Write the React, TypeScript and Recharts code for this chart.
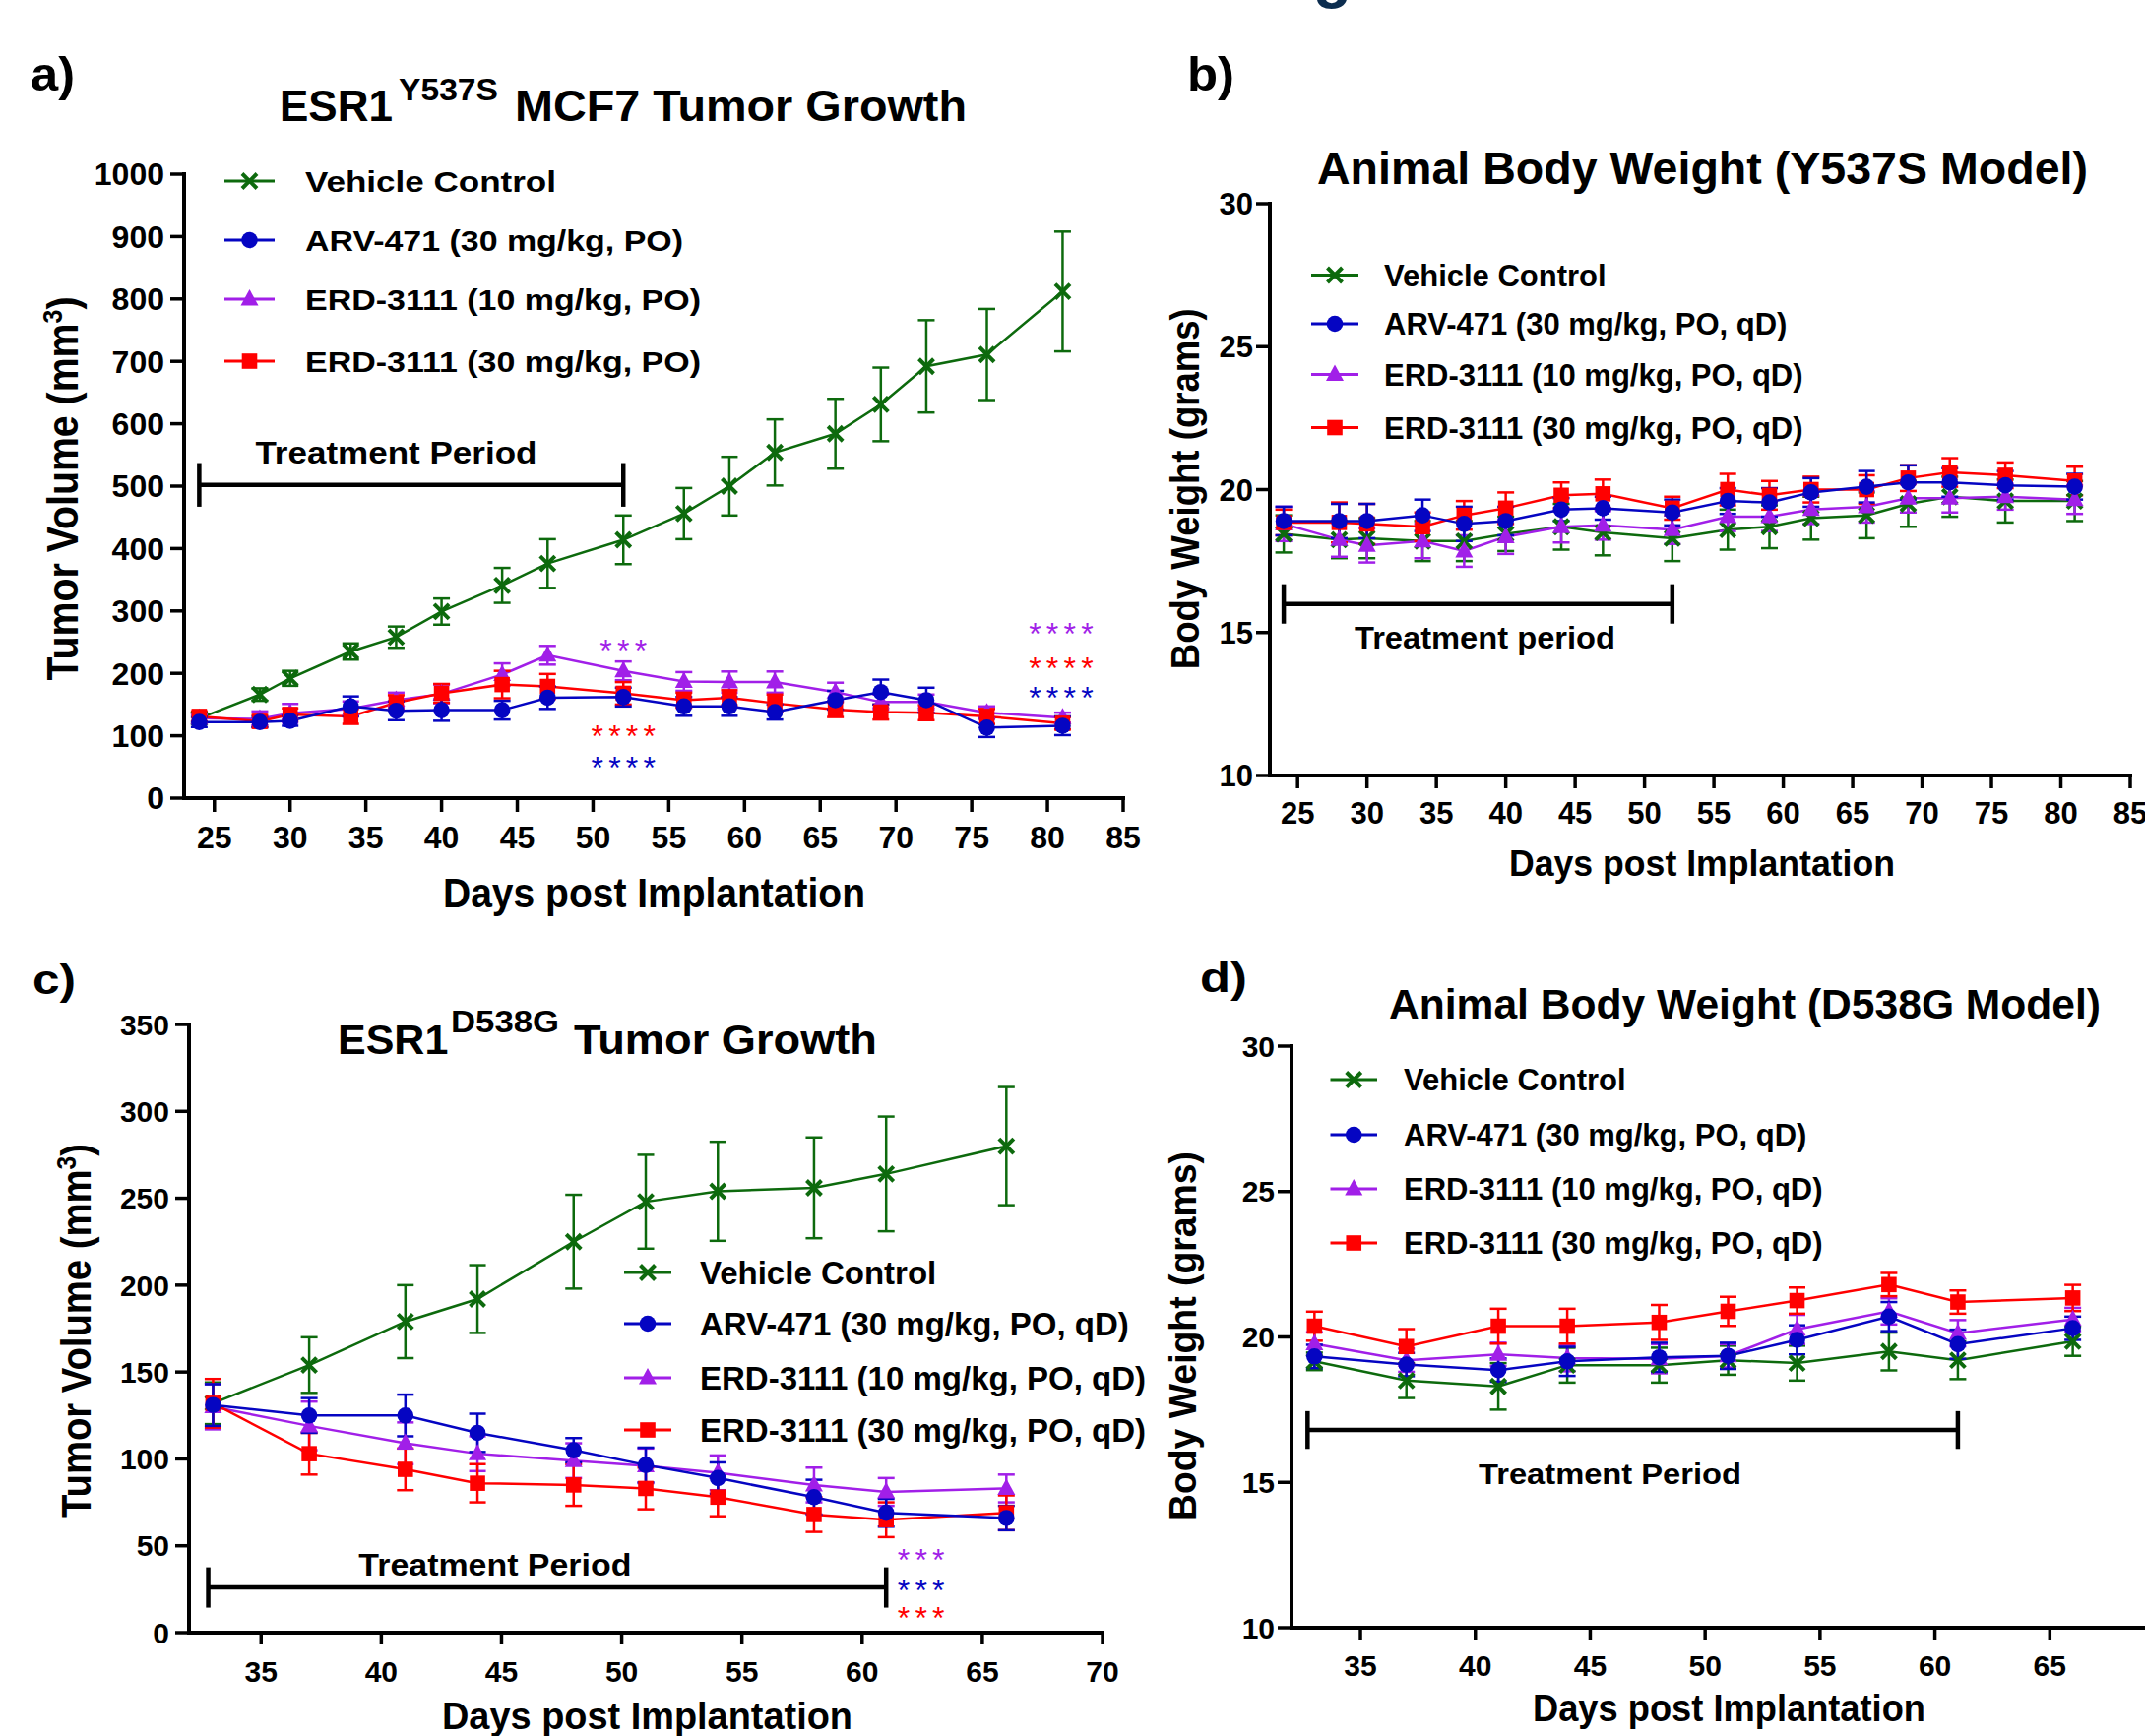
import React from "react";
import {
  ErrorBar,
  Line,
  LineChart,
  ReferenceDot,
  ReferenceLine,
  XAxis,
  YAxis,
} from "recharts";

const FONT = "'Liberation Sans', Arial, Helvetica, sans-serif";

const GREEN = "#0d6a0d";
const BLUE = "#0505c2";
const PURPLE = "#a11fe8";
const RED = "#ff0000";
const NAVY = "#0c2d4f";

// ---- a) ESR1 Y537S MCF7 tumor volume (mm3) ----
const daysY537S = [24, 28, 30, 34, 37, 40, 44, 47, 52, 56, 59, 62, 66, 69, 72, 76, 81];
const tvY537SVehicle = [128, 166, 192, 235, 258, 299, 341, 376, 414, 456, 500, 554, 584, 631, 692, 711, 812];
const tvY537SVehicleErr = [8, 10, 12, 13, 17, 21, 28, 39, 39, 41, 47, 53, 56, 59, 74, 73, 96];
const tvY537SArv = [122, 122, 124, 147, 140, 141, 141, 161, 162, 147, 147, 138, 157, 170, 157, 113, 116];
const tvY537SArvErr = [8, 8, 8, 16, 15, 17, 15, 18, 15, 15, 15, 12, 15, 20, 20, 15, 15];
const tvY537SErd10 = [128, 127, 136, 143, 157, 167, 198, 229, 204, 187, 186, 186, 170, 154, 154, 137, 129];
const tvY537SErd10Err = [6, 12, 15, 12, 12, 15, 18, 15, 15, 15, 17, 17, 15, 12, 12, 10, 8];
const tvY537SErd30 = [131, 123, 134, 131, 153, 168, 182, 179, 168, 157, 161, 152, 142, 138, 137, 131, 120];
const tvY537SErd30Err = [8, 10, 10, 12, 12, 15, 22, 20, 18, 12, 12, 14, 12, 12, 12, 12, 10];

// ---- b) body weight, Y537S model (grams) ----
const bwY537SVehicle = [18.45, 18.25, 18.3, 18.2, 18.2, 18.45, 18.7, 18.5, 18.3, 18.6, 18.7, 19.0, 19.1, 19.5, 19.75, 19.6, 19.6];
const bwY537SVehicleErr = [0.65, 0.65, 0.7, 0.7, 0.7, 0.6, 0.8, 0.8, 0.8, 0.7, 0.75, 0.75, 0.8, 0.8, 0.7, 0.75, 0.7];
const bwY537SArv = [18.9, 18.9, 18.9, 19.1, 18.8, 18.9, 19.3, 19.35, 19.2, 19.6, 19.55, 19.9, 20.1, 20.25, 20.25, 20.15, 20.1];
const bwY537SArvErr = [0.5, 0.6, 0.6, 0.55, 0.6, 0.5, 0.4, 0.4, 0.45, 0.45, 0.5, 0.5, 0.55, 0.6, 0.5, 0.5, 0.45];
const bwY537SErd10 = [18.8, 18.25, 18.05, 18.2, 17.85, 18.35, 18.7, 18.75, 18.6, 19.05, 19.05, 19.3, 19.4, 19.7, 19.7, 19.75, 19.65];
const bwY537SErd10Err = [0.6, 0.6, 0.6, 0.6, 0.55, 0.6, 0.55, 0.5, 0.5, 0.5, 0.5, 0.5, 0.55, 0.5, 0.5, 0.45, 0.5];
const bwY537SErd30 = [18.85, 18.85, 18.8, 18.7, 19.1, 19.35, 19.8, 19.85, 19.35, 20.0, 19.8, 20.0, 20.0, 20.4, 20.6, 20.5, 20.3];
const bwY537SErd30Err = [0.45, 0.7, 0.7, 0.5, 0.5, 0.55, 0.45, 0.5, 0.4, 0.55, 0.5, 0.45, 0.5, 0.45, 0.5, 0.45, 0.5];

// ---- c) ESR1 D538G tumor volume (mm3) ----
const daysD538G = [33, 37, 41, 44, 48, 51, 54, 58, 61, 66];
const tvD538GVehicle = [132, 154, 179, 192, 225, 248, 254, 256, 264, 280];
const tvD538GVehicleErr = [12, 16, 21, 19.5, 27, 27, 28.5, 29, 33, 34];
const tvD538GArv = [131, 125, 125, 115, 105, 96.5, 89, 78, 69, 66];
const tvD538GArvErr = [12, 10, 12, 11, 7, 10, 9, 10, 8, 7];
const tvD538GErd10 = [130, 119, 109, 103, 99, 96, 92, 85, 81, 83];
const tvD538GErd10Err = [13, 14, 12, 10, 10, 10, 10, 10, 8, 8];
const tvD538GErd30 = [132, 103, 94, 86, 85, 83, 78, 68, 65, 69];
const tvD538GErd30Err = [14, 12, 12, 11, 12, 12, 11, 10, 10, 10];

// ---- d) body weight, D538G model (grams) ----
const bwD538GVehicle = [19.16, 18.5, 18.3, 19.03, 19.03, 19.2, 19.1, 19.5, 19.2, 19.85];
const bwD538GVehicleErr = [0.3, 0.6, 0.8, 0.6, 0.6, 0.5, 0.6, 0.65, 0.65, 0.5];
const bwD538GArv = [19.33, 19.05, 18.86, 19.16, 19.3, 19.35, 19.9, 20.7, 19.75, 20.3];
const bwD538GArvErr = [0.4, 0.4, 0.4, 0.5, 0.5, 0.45, 0.5, 0.5, 0.5, 0.4];
const bwD538GErd10 = [19.76, 19.2, 19.4, 19.27, 19.25, 19.35, 20.26, 20.88, 20.13, 20.6];
const bwD538GErd10Err = [0.4, 0.4, 0.4, 0.45, 0.5, 0.4, 0.5, 0.45, 0.45, 0.4];
const bwD538GErd30 = [20.37, 19.67, 20.37, 20.37, 20.5, 20.88, 21.25, 21.8, 21.2, 21.34];
const bwD538GErd30Err = [0.5, 0.6, 0.6, 0.6, 0.6, 0.5, 0.45, 0.4, 0.4, 0.45];

// axis ticks
const ticksDaysY537S = [25, 30, 35, 40, 45, 50, 55, 60, 65, 70, 75, 80, 85];
const ticksDaysD538G = [35, 40, 45, 50, 55, 60, 65, 70];
const ticksTvY537S = [0, 100, 200, 300, 400, 500, 600, 700, 800, 900, 1000];
const ticksTvD538G = [0, 50, 100, 150, 200, 250, 300, 350];
const ticksWeight = [10, 15, 20, 25, 30];

const namesShort = ["Vehicle Control", "ARV-471 (30 mg/kg, PO)", "ERD-3111 (10 mg/kg, PO)", "ERD-3111 (30 mg/kg, PO)"];
const namesQd = ["Vehicle Control", "ARV-471 (30 mg/kg, PO, qD)", "ERD-3111 (10 mg/kg, PO, qD)", "ERD-3111 (30 mg/kg, PO, qD)"];

type Kind = "cross" | "circle" | "triangle" | "square";

// draw order (blue ends up on top); legend order is different
const SERIES: { key: string; kind: Kind; color: string }[] = [
  { key: "veh", kind: "cross", color: GREEN },
  { key: "erd10", kind: "triangle", color: PURPLE },
  { key: "erd30", kind: "square", color: RED },
  { key: "arv", kind: "circle", color: BLUE },
];
const LEGEND_ORDER: { kind: Kind; color: string }[] = [
  { kind: "cross", color: GREEN },
  { kind: "circle", color: BLUE },
  { kind: "triangle", color: PURPLE },
  { kind: "square", color: RED },
];

function buildRows(days: number[], cols: Record<string, number[]>) {
  return days.map((day, i) => {
    const row: Record<string, number> = { day };
    Object.keys(cols).forEach((k) => (row[k] = cols[k][i]));
    return row;
  });
}

const rowsA = buildRows(daysY537S, {
  veh: tvY537SVehicle, vehErr: tvY537SVehicleErr,
  arv: tvY537SArv, arvErr: tvY537SArvErr,
  erd10: tvY537SErd10, erd10Err: tvY537SErd10Err,
  erd30: tvY537SErd30, erd30Err: tvY537SErd30Err,
});
const rowsB = buildRows(daysY537S, {
  veh: bwY537SVehicle, vehErr: bwY537SVehicleErr,
  arv: bwY537SArv, arvErr: bwY537SArvErr,
  erd10: bwY537SErd10, erd10Err: bwY537SErd10Err,
  erd30: bwY537SErd30, erd30Err: bwY537SErd30Err,
});
const rowsC = buildRows(daysD538G, {
  veh: tvD538GVehicle, vehErr: tvD538GVehicleErr,
  arv: tvD538GArv, arvErr: tvD538GArvErr,
  erd10: tvD538GErd10, erd10Err: tvD538GErd10Err,
  erd30: tvD538GErd30, erd30Err: tvD538GErd30Err,
});
const rowsD = buildRows(daysD538G, {
  veh: bwD538GVehicle, vehErr: bwD538GVehicleErr,
  arv: bwD538GArv, arvErr: bwD538GArvErr,
  erd10: bwD538GErd10, erd10Err: bwD538GErd10Err,
  erd30: bwD538GErd30, erd30Err: bwD538GErd30Err,
});

function Marker({ kind, cx, cy, color }: { kind: Kind; cx: number; cy: number; color: string }) {
  if (kind === "cross") {
    const s = 7.5;
    return (
      <g stroke={color} strokeWidth={4}>
        <line x1={cx - s} y1={cy - s} x2={cx + s} y2={cy + s} />
        <line x1={cx - s} y1={cy + s} x2={cx + s} y2={cy - s} />
      </g>
    );
  }
  if (kind === "circle") return <circle cx={cx} cy={cy} r={8.3} fill={color} />;
  if (kind === "triangle")
    return <polygon points={`${cx},${cy - 10} ${cx - 9},${cy + 6.5} ${cx + 9},${cy + 6.5}`} fill={color} />;
  return <rect x={cx - 7.8} y={cy - 7.8} width={15.6} height={15.6} fill={color} />;
}

// text placed at a data coordinate (cap-centred on the point)
const textShape =
  (text: string, size: number, len?: number) =>
  (p: any) => (
    <text
      x={p.cx}
      y={p.cy + size * 0.358}
      textAnchor="middle"
      fontFamily={FONT}
      fontWeight={700}
      fontSize={size}
      fill="#000"
      textLength={len}
      lengthAdjust={len ? "spacingAndGlyphs" : undefined}
    >
      {text}
    </text>
  );

// significance stars, centred on the point
const starShape =
  (n: number, color: string) =>
  (p: any) => (
    <text
      x={p.cx + 2.6}
      y={p.cy + 18.7}
      textAnchor="middle"
      fontFamily={FONT}
      fontSize={32}
      letterSpacing={5.2}
      fill={color}
    >
      {"*".repeat(n)}
    </text>
  );

function treatment(x0: number, x1: number, y: number, cap: number) {
  const st = { stroke: "#000", strokeWidth: 4.5 };
  return [
    <ReferenceLine key="tp-h" segment={[{ x: x0, y }, { x: x1, y }]} {...st} />,
    <ReferenceLine key="tp-l" segment={[{ x: x0, y: y - cap }, { x: x0, y: y + cap }]} {...st} />,
    <ReferenceLine key="tp-r" segment={[{ x: x1, y: y - cap }, { x: x1, y: y + cap }]} {...st} />,
  ];
}

type PanelProps = {
  left: number;
  top: number;
  width: number;
  height: number;
  margin: { top: number; right: number; bottom: number; left: number };
  yAxisWidth: number;
  data: Record<string, number>[];
  xDomain: [number, number];
  xTicks: number[];
  yDomain: [number, number];
  yTicks: number[];
  tickFont: number;
  yTick: [number, number];
  xTick: [number, number];
  extras: React.ReactNode[];
};

function Panel(p: PanelProps) {
  const tickStyle = { fill: "#000", fontSize: p.tickFont, fontWeight: 700, fontFamily: FONT };
  const axisStyle = { stroke: "#000", strokeWidth: 4, strokeLinecap: "square" as const };
  const tickLine = { stroke: "#000", strokeWidth: 3.5 };
  return (
    <div style={{ position: "absolute", left: p.left, top: p.top, width: p.width, height: p.height }}>
      <LineChart width={p.width} height={p.height} data={p.data} margin={p.margin}>
        <XAxis
          type="number"
          dataKey="day"
          domain={p.xDomain}
          ticks={p.xTicks}
          interval={0}
          height={60}
          tick={tickStyle}
          tickSize={p.xTick[0]}
          tickMargin={p.xTick[1]}
          axisLine={axisStyle}
          tickLine={tickLine}
          allowDataOverflow
        />
        <YAxis
          type="number"
          domain={p.yDomain}
          ticks={p.yTicks}
          interval={0}
          width={p.yAxisWidth}
          tick={tickStyle}
          tickSize={p.yTick[0]}
          tickMargin={p.yTick[1]}
          axisLine={axisStyle}
          tickLine={tickLine}
          allowDataOverflow
        />
        {p.extras}
        {SERIES.map((s) => (
          <Line
            key={s.key}
            dataKey={s.key}
            stroke={s.color}
            strokeWidth={2.5}
            isAnimationActive={false}
            activeDot={false}
            dot={(d: any) => (
              <Marker key={`${s.key}-${d.index}`} kind={s.kind} cx={d.cx} cy={d.cy} color={s.color} />
            )}
          >
            <ErrorBar
              dataKey={`${s.key}Err`}
              direction="y"
              width={8.5}
              stroke={s.color}
              strokeWidth={2.5}
              isAnimationActive={false}
            />
          </Line>
        ))}
      </LineChart>
    </div>
  );
}

const T = ({
  x, y, size, len, children, anchor = "start", fill = "#000", rotate = false,
}: {
  x: number; y: number; size: number; len?: number; children: React.ReactNode;
  anchor?: "start" | "middle" | "end"; fill?: string; rotate?: boolean;
}) => (
  <text
    x={rotate ? 0 : x}
    y={rotate ? 0 : y}
    transform={rotate ? `translate(${x},${y}) rotate(-90)` : undefined}
    textAnchor={anchor}
    fontFamily={FONT}
    fontWeight={700}
    fontSize={size}
    fill={fill}
    textLength={len}
    lengthAdjust={len ? "spacingAndGlyphs" : undefined}
  >
    {children}
  </text>
);

function Legend({
  names, x1, x2, tx, rows, size, lens,
}: {
  names: string[]; x1: number; x2: number; tx: number; rows: number[]; size: number; lens?: number[];
}) {
  return (
    <g>
      {LEGEND_ORDER.map((s, i) => (
        <g key={i}>
          <line x1={x1} y1={rows[i]} x2={x2} y2={rows[i]} stroke={s.color} strokeWidth={3} />
          <Marker kind={s.kind} cx={(x1 + x2) / 2} cy={rows[i]} color={s.color} />
          <T x={tx} y={rows[i] + size * 0.358} size={size} len={lens ? lens[i] : undefined}>
            {names[i]}
          </T>
        </g>
      ))}
    </g>
  );
}

export default function App() {
  return (
    <div
      style={{
        position: "fixed",
        left: 0,
        top: 0,
        width: 2179,
        height: 1764,
        overflow: "hidden",
        background: "#fff",
      }}
    >
      <Panel
        left={0}
        top={0}
        width={1160}
        height={880}
        margin={{ top: 177, right: 19, bottom: 9, left: 0 }}
        yAxisWidth={187}
        data={rowsA}
        xDomain={[23, 85]}
        xTicks={ticksDaysY537S}
        yDomain={[0, 1000]}
        yTicks={ticksTvY537S}
        tickFont={32}
        yTick={[14, 6]}
        xTick={[14, 14]}
        extras={[
          ...treatment(24, 52, 502, 35),
          <ReferenceDot key="tp-t" x={37} y={555} r={0} shape={textShape("Treatment Period", 32, 286)} />,
          <ReferenceDot key="s1" x={52} y={248} r={0} shape={starShape(3, PURPLE)} />,
          <ReferenceDot key="s2" x={52} y={111} r={0} shape={starShape(4, RED)} />,
          <ReferenceDot key="s3" x={52} y={61} r={0} shape={starShape(4, BLUE)} />,
          <ReferenceDot key="s4" x={80.9} y={275} r={0} shape={starShape(4, PURPLE)} />,
          <ReferenceDot key="s5" x={80.9} y={220} r={0} shape={starShape(4, RED)} />,
          <ReferenceDot key="s6" x={80.9} y={173} r={0} shape={starShape(4, BLUE)} />,
        ]}
      />
      <Panel
        left={1160}
        top={0}
        width={1019}
        height={900}
        margin={{ top: 207, right: 15, bottom: 52, left: 0 }}
        yAxisWidth={130}
        data={rowsB}
        xDomain={[23, 85]}
        xTicks={ticksDaysY537S}
        yDomain={[10, 30]}
        yTicks={ticksWeight}
        tickFont={31}
        yTick={[14, 3]}
        xTick={[13, 14]}
        extras={[
          ...treatment(24, 52, 16.0, 0.69),
          <ReferenceDot key="tp-t" x={38.5} y={14.83} r={0} shape={textShape("Treatment period", 31, 265)} />,
        ]}
      />
      <Panel
        left={0}
        top={900}
        width={1160}
        height={864}
        margin={{ top: 141, right: 40, bottom: 45, left: 0 }}
        yAxisWidth={192}
        data={rowsC}
        xDomain={[32, 70]}
        xTicks={ticksDaysD538G}
        yDomain={[0, 350]}
        yTicks={ticksTvD538G}
        tickFont={30}
        yTick={[14, 6]}
        xTick={[12, 17]}
        extras={[
          ...treatment(32.8, 61, 26, 11.6),
          <ReferenceDot key="tp-t" x={44.73} y={39.1} r={0} shape={textShape("Treatment Period", 31, 277)} />,
          <ReferenceDot key="s1" x={62.45} y={46.4} r={0} shape={starShape(3, PURPLE)} />,
          <ReferenceDot key="s2" x={62.45} y={28.9} r={0} shape={starShape(3, BLUE)} />,
          <ReferenceDot key="s3" x={62.45} y={13} r={0} shape={starShape(3, RED)} />,
        ]}
      />
      <Panel
        left={1160}
        top={900}
        width={1060}
        height={864}
        margin={{ top: 163, right: 21, bottom: 50, left: 0 }}
        yAxisWidth={152}
        data={rowsD}
        xDomain={[32, 70]}
        xTicks={ticksDaysD538G}
        yDomain={[10, 30]}
        yTicks={ticksWeight}
        tickFont={30}
        yTick={[14, 3]}
        xTick={[12, 16]}
        extras={[
          ...treatment(32.7, 61, 16.8, 0.65),
          <ReferenceDot key="tp-t" x={45.86} y={15.31} r={0} shape={textShape("Treatment Period", 30, 267)} />,
        ]}
      />

      <svg
        width={2179}
        height={1764}
        style={{ position: "absolute", left: 0, top: 0, pointerEvents: "none" }}
      >
        {/* cropped heading glyph at the very top */}
        <T x={1334} y={-4} size={64} fill={NAVY}>g</T>

        {/* panel letters */}
        <T x={31} y={92} size={48} len={45}>a)</T>
        <T x={1206} y={92} size={48} len={48}>b)</T>
        <T x={33} y={1010} size={42} len={44}>c)</T>
        <T x={1219} y={1008} size={42} len={48}>d)</T>

        {/* titles */}
        <T x={284} y={123.4} size={44}>ESR1</T>
        <T x={405} y={102} size={31} len={101}>Y537S</T>
        <T x={523} y={123.4} size={44} len={459}>MCF7 Tumor Growth</T>
        <T x={1338} y={186.6} size={47} len={783}>Animal Body Weight (Y537S Model)</T>
        <T x={343} y={1071} size={43}>ESR1</T>
        <T x={458} y={1049} size={32} len={110}>D538G</T>
        <T x={583} y={1071} size={43} len={308}>Tumor Growth</T>
        <T x={1411} y={1035} size={42} len={723}>Animal Body Weight (D538G Model)</T>

        {/* axis titles */}
        <T x={450} y={922} size={42} len={429}>Days post Implantation</T>
        <T x={1533} y={890} size={36} len={392}>Days post Implantation</T>
        <T x={449} y={1757} size={39} len={417}>Days post Implantation</T>
        <T x={1557} y={1748.6} size={38} len={399}>Days post Implantation</T>
        <T x={78.6} y={496.5} size={44} len={390} anchor="middle" rotate>
          Tumor Volume (mm<tspan dy={-16} fontSize={28}>3</tspan><tspan dy={16}>)</tspan>
        </T>
        <T x={1217.6} y={496.7} size={41} len={367} anchor="middle" rotate>
          Body Weight (grams)
        </T>
        <T x={92} y={1352} size={42} len={380} anchor="middle" rotate>
          Tumor Volume (mm<tspan dy={-15} fontSize={27}>3</tspan><tspan dy={15}>)</tspan>
        </T>
        <T x={1215} y={1357.5} size={39} len={375} anchor="middle" rotate>
          Body Weight (grams)
        </T>

        {/* legends */}
        <Legend names={namesShort} x1={228} x2={279} tx={310} rows={[184, 244, 304, 367]} size={30} lens={[255, 384, 402, 402]} />
        <Legend names={namesQd} x1={1332} x2={1380} tx={1406} rows={[279.5, 329, 380.6, 434.5]} size={31} />
        <Legend names={namesQd} x1={634} x2={682} tx={711} rows={[1293, 1345, 1400, 1453]} size={33} />
        <Legend names={namesQd} x1={1351.5} x2={1399} tx={1426} rows={[1097, 1153, 1208, 1263]} size={31} />
      </svg>
    </div>
  );
}
